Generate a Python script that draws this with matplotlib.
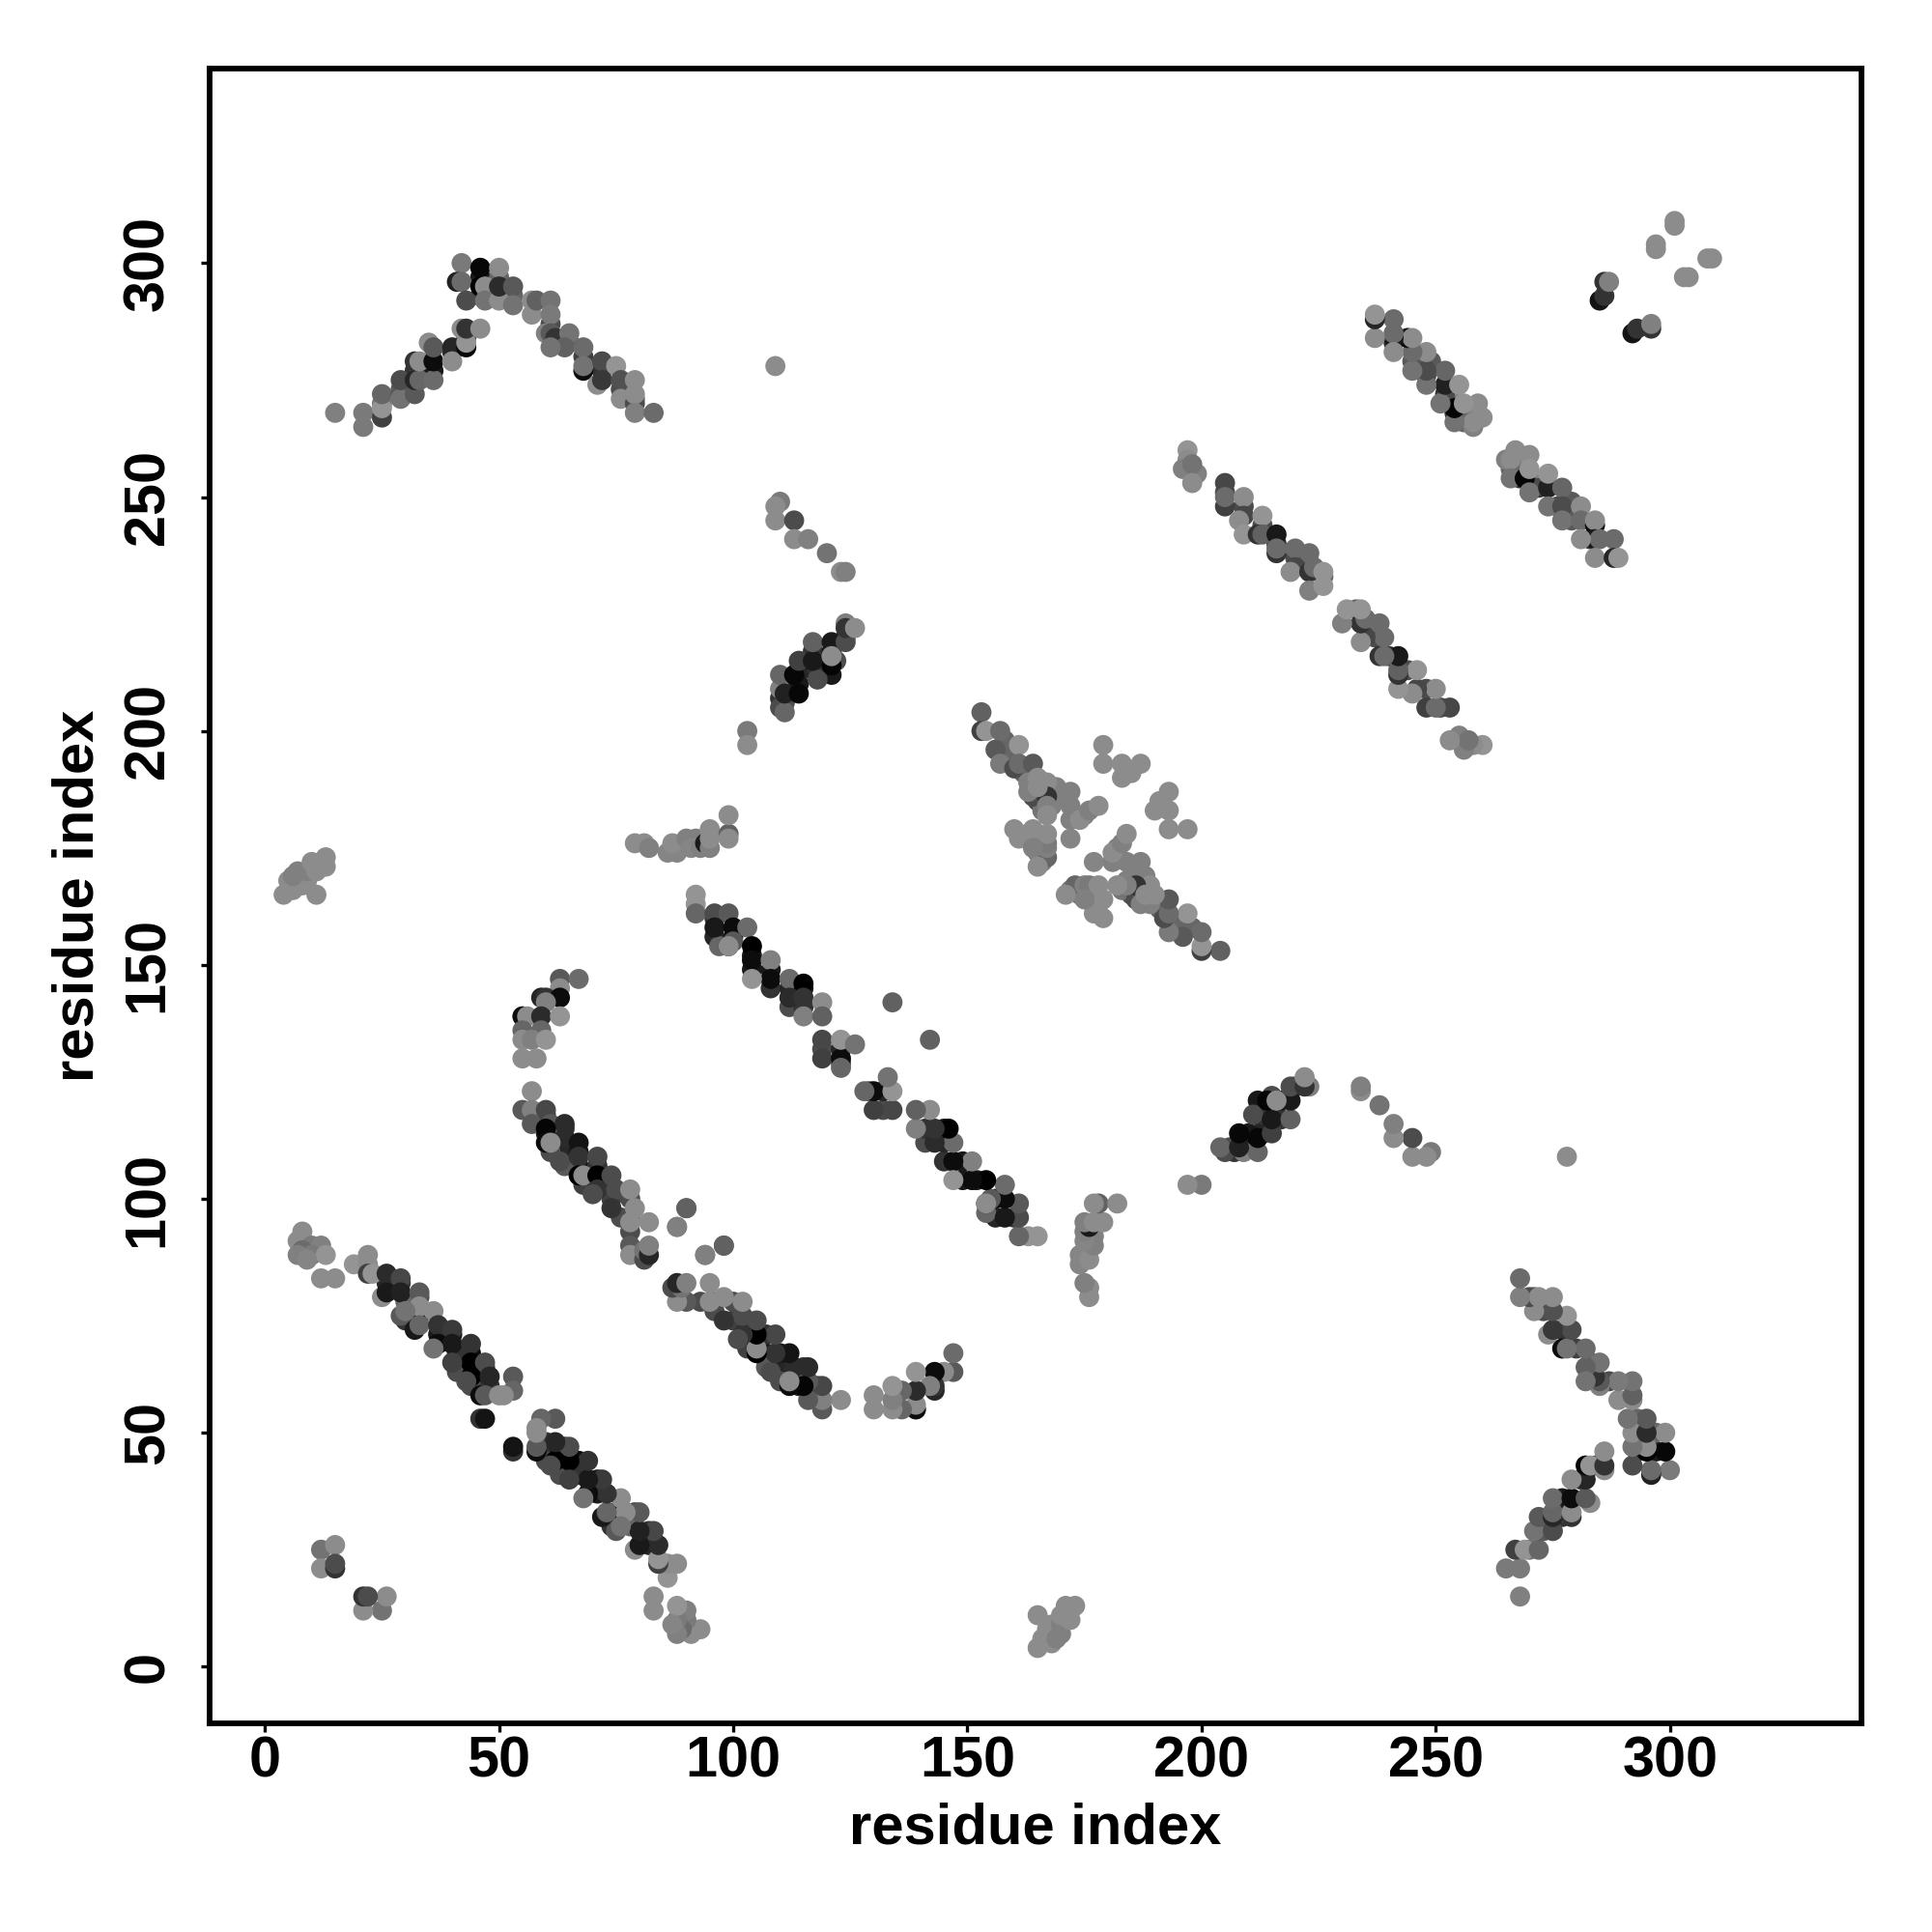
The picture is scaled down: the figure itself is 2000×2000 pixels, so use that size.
import numpy as np
import matplotlib
matplotlib.use('Agg')
import matplotlib.pyplot as plt

# Contacts are read as (residue i, residue j, gray level) with i < j.
# The map is symmetric, so each contact is drawn at (i, j) and at (j, i).
strand_1_8 = [(8,93,.55),(7,91,.55),(10,90,.48),(12,90,.5),(8,89,.42),(10,88,.48),(13,88,.58),(7,88,.5),
              (9,87,.52),(12,83,.55),(15,83,.55),(19,86,.58),(22,88,.55),(22,86,.55),(22,84,.25),(23,84,.58),
              (25,79,.55),(26,84,.17),(29,83,.28),(26,80,.1),(29,80,.13),(33,80,.35),(33,75,.02),(33,77,.55),
              (29,75,.35),(30,76,.45),(36,76,.55),(32,72,.1),(33,73,.4),(37,73,.2),(40,72,.23),(37,69,.05),
              (40,69,.1),(44,69,.2),(36,68,.45),(44,65,.0),(47,65,.3),(40,65,.25),(44,62,.0),(48,62,.15),
              (43,61,.3),(53,62,.35),(46,58,.05),(47,58,.35),(50,58,.55),(53,59,.4),(51,58,.55),(46,53,.2),(47,53,.08)]
small_cluster = [(12,25,.45),(15,26,.55),(12,21,.55),(15,21,.2),(15,22,.3)]
n_term_165 = [(4,165,.55),(6,166,.55),(11,165,.55),(5,168,.55),(8,167,.55),(9,168,.55),(6,169,.5),(7,170,.5),
              (9,170,.5),(11,170,.55),(10,172,.55),(12,172,.55),(13,171,.55),(13,173,.55)]
arm_130 = [(63,147,.35),(67,147,.42),(63,145,.55),(59,143,.15),(60,143,.2),(63,143,.05),(60,142,.5),(55,139,.58),
           (55,139,.05),(56,139,.55),(59,139,.17),(63,139,.58),(55,136,.4),(59,136,.4),(55,134,.55),(57,134,.5),
           (60,134,.58),(55,130,.55),(58,130,.55)]
band_87 = [(57,123,.55),(55,119,.35),(57,119,.5),(60,119,.28),(57,116,.35),(61,116,.35),(64,116,.17),(60,115,.02),
           (64,113,.17),(60,112,.05),(61,112,.55),(67,112,.08),(63,108,.3),(67,109,.2),(71,109,.28),(67,105,.0),
           (68,105,.55),(71,105,.0),(74,105,.3),(71,102,.2),(70,101,.3),(75,102,.3),(78,102,.55),(74,98,.2),
           (79,98,.55),(78,93,.3),(78,95,.55),(82,95,.55),(90,98,.38),(88,94,.5),(98,90,.38),(94,88,.5),
           (78,90,.35),(78,88,.55),(81,87,.3),(81,89,.45),(82,88,.15),(82,90,.5)]
band_128 = [(92,165,.58),(92,163,.58),(92,161,.4),(96,161,.3),(99,161,.35),(96,158,.1),(100,158,.05),(103,158,.42),
            (99,154,.1),(100,155,.35),(99,154,.55),(104,154,.0),(104,151,.05),(108,151,.5),(108,147,.05),(104,147,.58),
            (112,147,.42),(115,146,.0),(112,143,.17),(115,143,.2),(119,142,.55),(115,139,.5),(119,139,.38),(119,134,.28),
            (119,130,.25),(123,130,.05),(123,128,.4),(123,134,.58),(126,133,.45),(134,142,.38)]
arm_80_100 = [(79,176,.55),(81,176,.55),(82,175,.5),(86,174,.52),(88,174,.52),(87,176,.55),(90,177,.5),(92,177,.5),
              (91,175,.52),(93,175,.5),(94,176,.1),(95,175,.5),(95,177,.55),(95,179,.55),(99,178,.38),(99,177,.55),(99,182,.55)]
arm_103_125 = [(103,200,.48),(103,197,.55),(110,205,.3),(111,204,.4),(110,209,.5),(110,212,.4),(111,208,.13),
               (114,208,.03),(113,212,.03),(114,215,.25),(118,211,.3),(117,215,.1),(117,219,.38),(121,214,.02),
               (121,219,.1),(121,216,.55),(124,219,.3),(124,223,.5),(124,222,.2),(126,222,.55)]
arm_234_249 = [(110,249,.48),(109,248,.55),(109,245,.55),(113,245,.3),(113,241,.55),(116,241,.5),(120,238,.45),
               (123,234,.55),(124,234,.5),(109,278,.55)]
top_left = [(15,268,.5),(21,268,.48),(21,265,.48),(25,267,.25),(25,269,.58),(25,272,.4),(29,272,.35),(29,271,.45),
            (32,272,.35),(29,275,.3),(32,275,.15),(33,275,.4),(36,275,.42),(32,279,.2),(33,279,.55),(36,279,.05),
            (35,283,.55),(36,282,.35),(40,282,.15),(40,279,.55),(43,282,.03),(43,283,.58),(42,286,.55),(43,286,.2),
            (46,286,.55),(42,300,.48),(41,296,.13),(42,296,.42),(43,292,.3),(46,299,.03),(46,295,.0),(47,295,.55),
            (47,292,.45),(50,299,.55),(50,292,.55),(50,295,.17),(53,295,.35),(53,291,.45),(57,289,.55),(57,292,.55),
            (58,292,.38),(61,292,.45),(61,289,.48),(60,285,.5),(61,285,.35),(62,284,.2),(65,285,.45),(64,282,.38),
            (61,282,.45),(68,282,.42),(68,277,.05),(68,278,.45),(72,279,.3),(75,278,.58),(71,274,.55),(72,275,.22),
            (76,275,.32),(79,275,.55),(76,271,.55),(79,270,.3),(79,272,.55),(79,268,.5),(83,268,.42)]
cross_180 = [(153,204,.38),(153,200,.25),(154,200,.58),(157,200,.42),(156,196,.35),(157,193,.48),(161,197,.58),
             (160,192,.3),(161,193,.42),(164,193,.35),(163,189,.5),(165,190,.55),(167,189,.55),(164,186,.3),(163,187,.5),
             (167,186,.2),(165,188,.55),(167,184,.5),(167,182,.55),(172,187,.5),(172,184,.5),(172,181,.5),(174,181,.55),
             (176,183,.5),(178,184,.55),(172,177,.52),(160,179,.55),(164,179,.55),(161,177,.55),(167,173,.4),(167,175,.5),
             (167,176,.48),(167,178,.55),(164,175,.5),(165,171,.55),(179,197,.55),(179,193,.55),(183,193,.55),(187,193,.55),
             (183,190,.55),(185,191,.55)]
band_228 = [(197,260,.58),(197,258,.55),(196,256,.5),(198,257,.45),(198,253,.55),(205,253,.28),(205,248,.25),(205,250,.42),
            (209,250,.55),(209,246,.28),(213,246,.58),(208,245,.55),(209,242,.58),(212,242,.2),(213,242,.38),(216,242,.1),
            (216,238,.2),(216,239,.42),(220,239,.42),(223,238,.42),(220,235,.28),(219,234,.55),(223,234,.2),(224,235,.42),
            (226,234,.58),(223,230,.5),(226,231,.58)]
band_262 = [(260,267,.55),(259,270,.55),(258,265,.5),(258,266,.55),(254,266,.45),(254,269,.02),(256,270,.58),(251,270,.45),
            (252,274,.13),(255,274,.58),(252,277,.4),(248,274,.45),(248,277,.3),(248,281,.55),(245,277,.45),(245,281,.42),
            (244,284,.05),(245,284,.55),(241,284,.1),(241,285,.42),(241,281,.55),(241,288,.42),(237,284,.55),(237,288,.15),(237,289,.58)]
top_right = [(285,292,.08),(286,293,.2),(286,296,.2),(287,296,.5),(297,303,.55),(297,304,.55),(301,308,.55),(301,309,.55)]

# partly hidden contacts that only show as rims under the ones above, so they go first
under_strand = [(26,82,.15),(29,82,.2),(27,81,.25),(33,79,.3),(30,78,.4),(33,76,.3),(30,74,.2),(37,71,.1),(40,71,.1),
                (38,70,.15),(44,67,.05),(41,67,.2),(44,64,.05),(47,64,.15),(41,63,.3),(47,60,.1),(44,60,.3),(48,60,.2)]
under_87 = [(60,118,.25),(60,114,.1),(64,115,.2),(64,111,.15),(61,110,.3),(67,110,.1),(67,107,.1),(64,107,.35),(71,107,.2),
            (68,103,.25),(71,103,.1),(74,103,.2),(74,100,.25),(78,100,.3),(78,96,.35),(76,96,.3)]
under_128 = [(96,160,.2),(96,156,.15),(100,156,.1),(97,154,.4),(104,152,.1),(104,149,.1),(108,149,.1),(108,145,.2),(112,145,.15),
             (115,145,.1),(112,141,.3),(115,141,.2),(119,132,.3),(123,132,.15),(123,129,.3)]
under_arm = [(110,207,.2),(113,210,.05),(114,210,.1),(114,213,.1),(117,213,.15),(117,217,.2),(121,217,.1),(124,220,.3),
             (111,206,.3),(118,213,.2),(121,212,.1),(122,215,.3)]
under_top = [(25,270,.45),(29,273,.35),(32,277,.2),(33,277,.3),(36,277,.1),(40,281,.2),(43,284,.25),(46,297,.1),(46,293,.2),
             (50,297,.4),(50,294,.3),(53,293,.4),(61,287,.3),(65,283,.35),(68,280,.25),(72,277,.2),(76,273,.3),(79,271,.35)]
under_cross = [(164,188,.45),(166,187,.4),(165,185,.3),(166,183,.45),(168,184,.5),(165,177,.5),(165,174,.45),(166,172,.5),
               (163,178,.5),(169,188,.5),(170,186,.5),(175,182,.5),(158,198,.4),(159,195,.4),(162,191,.4)]
under_bands = [(205,251,.3),(209,248,.3),(213,244,.3),(216,240,.2),(220,237,.3),(223,236,.3),(226,233,.4),(199,255,.5),
               (256,268,.45),(254,268,.2),(252,272,.2),(248,276,.3),(245,279,.35),(241,283,.2),(259,268,.5),(257,266,.45),
               (256,266,.4),(255,270,.5),(252,271,.3),(249,279,.35)]

x_ticks = [0, 50, 100, 150, 200, 250, 300]
y_ticks = [0, 50, 100, 150, 200, 250, 300]

contacts = np.array(under_strand + under_87 + under_128 + under_arm + under_top + under_cross + under_bands
                    + strand_1_8 + small_cluster + n_term_165 + arm_130 + band_87 + band_128 + arm_80_100
                    + arm_103_125 + arm_234_249 + top_left + cross_180 + band_228 + band_262 + top_right)
res_i, res_j, gray = contacts[:, 0], contacts[:, 1], contacts[:, 2]

plt.rcParams['font.family'] = ['Liberation Sans', 'DejaVu Sans']
plt.rcParams['font.weight'] = 'bold'

fig = plt.figure(figsize=(10, 10), dpi=200)
ax = fig.add_axes([0.10825, 0.10815, 0.85525, 0.85615])

ax.scatter(np.concatenate([res_i, res_j]), np.concatenate([res_j, res_i]),
           c=np.concatenate([gray, gray]), cmap='gray', vmin=0, vmax=1, s=56, linewidths=0)

ax.set_xlim(-11.9, 340.9)
ax.set_ylim(-12.05, 341.5)
ax.set_xticks(x_ticks)
ax.set_yticks(y_ticks)
ax.tick_params(axis='x', length=3.2, width=1.2, pad=1.5, labelsize=21.4)
ax.tick_params(axis='y', length=3.2, width=1.2, pad=9.5, labelsize=21.4)
for lab in ax.get_yticklabels():
    lab.set_rotation(90)
    lab.set_va('center')
for side in ax.spines.values():
    side.set_linewidth(2.1)

ax.set_xlabel('residue index', fontsize=21.5, fontweight='bold')
ax.set_ylabel('residue index', fontsize=21.5, fontweight='bold')
ax.xaxis.set_label_coords(0.5, -0.048)
ax.yaxis.set_label_coords(-0.063, 0.5)

fig.savefig('out.png', dpi=200)
